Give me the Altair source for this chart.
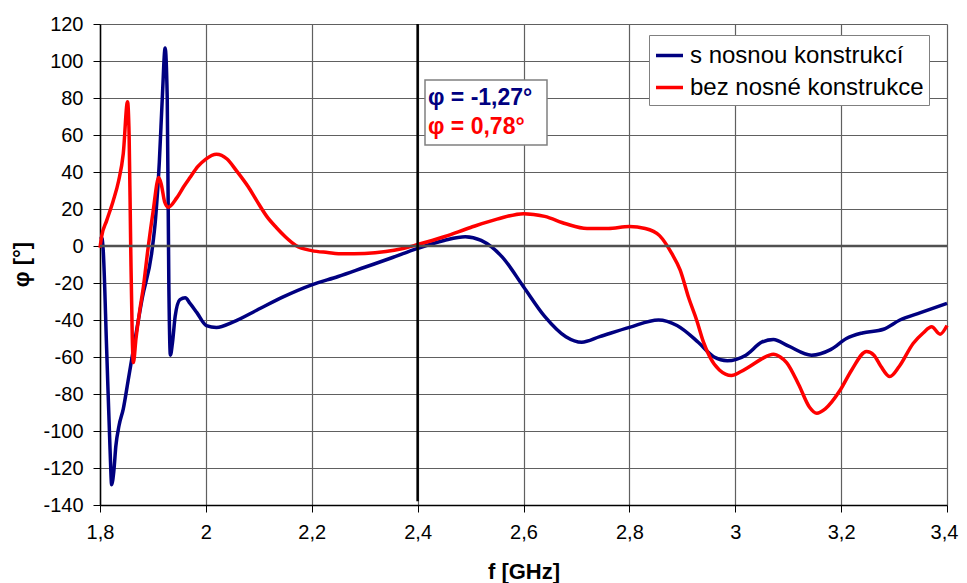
import altair as alt
import pandas as pd

# ---- data ----
name_blue = "s nosnou konstrukcí"
name_red = "bez nosné konstrukce"

blue_f = [1.800, 1.804, 1.806, 1.8126, 1.819, 1.822, 1.826, 1.830, 1.836, 1.844,
          1.853, 1.863, 1.880, 1.898, 1.905, 1.912, 1.918, 1.923, 1.927, 1.930,
          1.933, 1.937, 1.942, 1.951, 1.961, 1.970, 1.983, 2.001, 2.020, 2.052,
          2.096, 2.146, 2.200, 2.250, 2.300, 2.350, 2.400, 2.450, 2.490, 2.520,
          2.560, 2.600, 2.640, 2.680, 2.710, 2.744, 2.800, 2.855, 2.890, 2.930,
          2.960, 2.985, 3.020, 3.050, 3.072, 3.100, 3.144, 3.180, 3.210, 3.240,
          3.280, 3.311, 3.350, 3.400]
blue_phi = [5, 4, -2, -56, -110, -129, -122, -108, -97, -88,
            -73, -56, -28, -3, 15, 45, 82, 107, 80, -20,
            -59, -52, -38, -29, -28, -31, -36, -43, -44, -41,
            -34.7, -27.5, -21, -16.5, -11.5, -6.5, -1.27, 3, 5, 3,
            -6, -22, -38, -49, -52, -49, -44, -40, -43, -52,
            -60, -62, -59, -52, -50.5, -54, -59, -56, -50, -47,
            -45, -40, -36, -31]

red_f = [1.800, 1.803, 1.8126, 1.825, 1.835, 1.844, 1.852, 1.855, 1.858, 1.861,
         1.863, 1.868, 1.875, 1.882, 1.890, 1.900, 1.911, 1.916, 1.922, 1.929,
         1.945, 1.958, 1.970, 1.985, 2.000, 2.020, 2.040, 2.058, 2.080, 2.096,
         2.115, 2.133, 2.150, 2.170, 2.200, 2.230, 2.260, 2.300, 2.340, 2.370,
         2.400, 2.450, 2.500, 2.550, 2.600, 2.640, 2.680, 2.720, 2.760, 2.800,
         2.830, 2.857, 2.880, 2.896, 2.912, 2.927, 2.940, 2.952, 2.970, 2.993,
         3.010, 3.028, 3.050, 3.072, 3.085, 3.097, 3.120, 3.140, 3.154, 3.170,
         3.198, 3.220, 3.248, 3.262, 3.275, 3.292, 3.310, 3.336, 3.355, 3.371,
         3.387, 3.400]
red_phi = [-1, 5, 13.7, 24.5, 35, 50, 78, 60, 0, -50,
           -63, -50, -35, -22, -3, 18, 37, 33, 24, 21,
           26, 32, 37, 43, 47, 49.6, 47, 40.6, 32, 24.5,
           16, 10, 5, 0.3, -2.5, -3.5, -4.2, -4, -3, -1.5,
           0.78, 5, 10, 14.5, 17.5, 16, 12, 9.5, 9.5, 10.5,
           9.5, 5.6, -4, -13, -28, -40, -52, -60, -67, -70,
           -68, -65, -61, -58.5, -60, -63, -75, -87, -90.4, -88,
           -78, -67, -57, -59, -65, -70.6, -65, -52.7, -47, -43.7,
           -47.7, -43]

x_ticks = [1.8, 2.0, 2.2, 2.4, 2.6, 2.8, 3.0, 3.2, 3.4]
y_ticks = [120, 100, 80, 60, 40, 20, 0, -20, -40, -60, -80, -100, -120, -140]
marker_f = [2.4]
marker_top = [120]
marker_bottom = [-138]
note_blue = "φ = -1,27°"
note_red = "φ = 0,78°"

FONT = "Liberation Sans, Arial, sans-serif"
BLUE = "#000080"
RED = "#ff0000"

df_blue = pd.DataFrame({"f": blue_f, "phi": blue_phi, "s": name_blue})
df_red = pd.DataFrame({"f": red_f, "phi": red_phi, "s": name_red})
df_marker = pd.DataFrame({"f": marker_f, "top": marker_top, "bottom": marker_bottom})
df_zero = pd.DataFrame({"phi": [0]})

xscale = alt.Scale(domain=[1.8, 3.4], nice=False, zero=False)
yscale = alt.Scale(domain=[-140, 120], nice=False, zero=False)
color = alt.Color(
    "s:N",
    scale=alt.Scale(domain=[name_blue, name_red], range=[BLUE, RED]),
    legend=alt.Legend(
        title=None, orient="none", legendX=549, legendY=11,
        symbolType="stroke", symbolSize=729, symbolStrokeWidth=3.5,
        labelFont=FONT, labelFontSize=24, labelColor="#000",
        strokeColor="#808080", fillColor="#ffffff", padding=5,
        rowPadding=4, labelOffset=5, labelLimit=400,
    ),
)

x_axis = alt.Axis(
    values=x_ticks, title="f [GHz]",
    labelExpr="replace(toString(datum.value), '.', ',')",
    labelOffset={"condition": {"test": "datum.value > 3.39", "value": -3}, "value": 0},
    titleX=423.5, titleY=66, titleBaseline="middle",
)
y_axis = alt.Axis(
    values=y_ticks, title="φ [°]",
    labelExpr="toString(datum.value)",
    titleX=-79, titleY=240, titleAngle=-90, titleBaseline="middle", titleAlign="center",
)


def X(field):
    return alt.X(field, type="quantitative", scale=xscale, axis=x_axis)


def Y(field):
    return alt.Y(field, type="quantitative", scale=yscale, axis=y_axis)


zero = alt.Chart(df_zero).mark_rule(color="#505050", strokeWidth=2.5).encode(
    y=Y("phi")
)
blue = alt.Chart(df_blue).mark_line(interpolate="monotone", strokeWidth=3.5).encode(
    x=X("f"), y=Y("phi"), color=color
)
red = alt.Chart(df_red).mark_line(interpolate="monotone", strokeWidth=3.5).encode(
    x=X("f"), y=Y("phi"), color=color
)
marker = alt.Chart(df_marker).mark_rule(color="#000", strokeWidth=2.5).encode(
    x=X("f"), y=Y("top"), y2="bottom:Q",
)
box = alt.Chart(df_zero).mark_rect(fill="#ffffff", stroke="#808080", strokeWidth=1.5).encode(
    x=alt.value(325), x2=alt.value(447), y=alt.value(56), y2=alt.value(121)
)
t1 = alt.Chart(df_zero).mark_text(
    text=note_blue, font=FONT, fontSize=23, fontWeight="bold", color=BLUE,
    align="left", baseline="middle"
).encode(x=alt.value(328), y=alt.value(74))
t2 = alt.Chart(df_zero).mark_text(
    text=note_red, font=FONT, fontSize=23, fontWeight="bold", color=RED,
    align="left", baseline="middle"
).encode(x=alt.value(328), y=alt.value(103))

chart = alt.layer(blue, red, zero, marker, box, t1, t2).properties(
    width=847, height=481,
    autosize=alt.AutoSizeParams(type="none"),
    padding={"left": 92, "top": 16, "right": 12, "bottom": 78},
).configure_view(stroke=None).configure_axis(
    grid=True, gridColor="#606060", gridWidth=1.2, gridOpacity=1,
    domainColor="#000", domainWidth=1.5, tickColor="#000", tickSize=7,
    labelFont=FONT, labelFontSize=20, labelColor="#000", labelPadding=10,
    labelOverlap=False, labelFlush=False, labelBound=False,
    titleFont=FONT, titleFontSize=22, titleFontWeight="bold", titleColor="#000",
)

chart.save("out.html", embed_options={"renderer": "svg", "actions": False})
